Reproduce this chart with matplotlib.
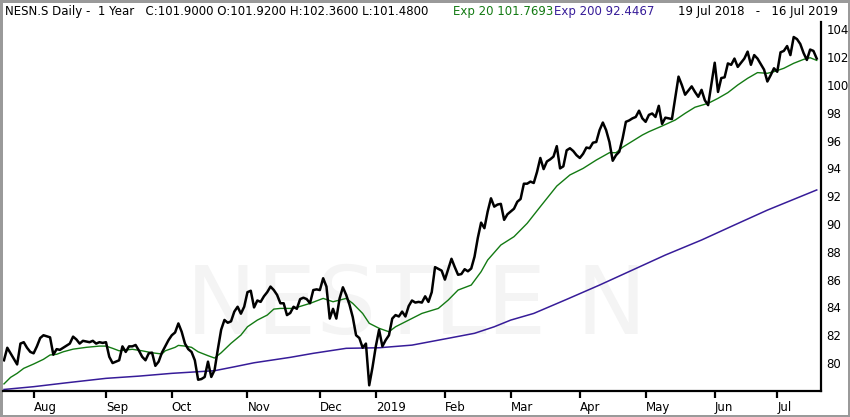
import matplotlib
matplotlib.use("Agg")
import matplotlib.pyplot as plt

# trading-day index (0 = 19 Jul 2018) and daily close
price_day = [0, 1, 3, 4, 5, 6, 7, 8, 9, 10, 11, 12, 14, 15, 16, 17, 18, 20, 21, 22,
             23, 24, 26, 27, 28, 29, 30, 31, 32, 33, 34, 35, 36, 37, 38, 39, 40, 41, 42, 43,
             44, 45, 46, 47, 48, 49, 50, 51, 52, 53, 54, 55, 56, 57, 58, 59, 60, 61, 62, 63,
             64, 65, 66, 67, 68, 69, 70, 71, 72, 73, 74, 75, 76, 77, 78, 79, 80, 81, 82, 83,
             84, 85, 86, 87, 88, 89, 90, 91, 92, 93, 94, 95, 96, 97, 98, 99, 100, 101, 102, 103,
             104, 105, 106, 107, 108, 109, 110, 111, 112, 113, 114, 115, 116, 117, 118, 119, 120, 121, 122, 123,
             124, 125, 126, 127, 128, 129, 130, 131, 133, 134, 136, 137, 138, 139, 140, 141, 142, 143, 144, 145,
             146, 147, 148, 149, 150, 151, 152, 153, 155, 156, 157, 158, 159, 160, 161, 162, 163, 164, 165, 166,
             167, 168, 169, 170, 171, 172, 173, 174, 175, 176, 177, 178, 179, 180, 181, 182, 183, 184, 185, 186,
             187, 188, 189, 190, 191, 192, 193, 194, 195, 196, 197, 198, 199, 200, 201, 202, 203, 205, 206, 207,
             209, 210, 211, 212, 213, 214, 216, 217, 218, 219, 220, 221, 222, 223, 224, 225, 226, 227, 228, 229,
             230, 231, 232, 233, 234, 235, 236, 237, 238, 239, 240, 241, 242, 243, 244, 245, 246, 247]
price_close = [80.2, 81.1, 80.3, 79.9, 81.4, 81.5, 81.1, 80.8, 80.7, 81.2, 81.8, 82.0, 81.85, 80.6, 81.0, 80.95, 81.1, 81.4, 81.9, 81.7,
               81.4, 81.6, 81.5, 81.6, 81.4, 81.5, 81.45, 81.5, 80.45, 80.0, 80.1, 80.2, 81.2, 80.8, 81.2, 81.2, 81.3, 80.9, 80.45, 80.2,
               80.7, 80.75, 79.8, 80.1, 80.75, 81.2, 81.65, 82.0, 82.2, 82.85, 82.25, 81.4, 81.0, 80.8, 80.2, 78.8, 78.85, 79.0, 80.1, 79.0,
               79.5, 81.0, 82.4, 83.1, 82.9, 83.0, 83.7, 84.05, 83.55, 84.05, 85.1, 85.2, 84.0, 84.5, 84.4, 84.8, 85.1, 85.5, 85.25, 84.9,
               84.3, 84.3, 83.45, 83.6, 84.05, 83.9, 84.6, 84.7, 84.6, 84.3, 85.25, 85.3, 85.25, 86.1, 85.5, 83.2, 83.9, 83.2, 84.65, 85.45,
               84.9, 84.2, 83.3, 82.0, 81.8, 81.1, 81.4, 78.4, 79.7, 81.2, 82.4, 81.2, 81.65, 82.0, 83.2, 83.45, 83.35, 83.7, 83.35, 84.1,
               84.5, 84.35, 84.4, 84.35, 84.8, 84.4, 85.1, 86.9, 86.65, 86.0, 87.5, 86.9, 86.35, 86.4, 86.75, 86.6, 86.8, 87.65, 89.0, 90.1,
               89.7, 90.9, 91.85, 91.25, 91.4, 91.45, 90.3, 90.7, 91.1, 91.6, 91.8, 92.9, 92.9, 93.05, 92.95, 93.75, 94.75, 93.95, 94.5, 94.65,
               94.85, 95.6, 94.0, 94.15, 95.3, 95.45, 95.25, 94.95, 94.75, 95.05, 95.5, 95.45, 95.85, 95.9, 96.75, 97.3, 96.75, 95.9, 94.55, 94.95,
               95.2, 96.15, 97.35, 97.45, 97.6, 97.7, 98.15, 97.6, 97.35, 97.85, 97.95, 97.7, 98.5, 97.2, 97.65, 97.6, 97.55, 100.6, 100.0, 99.3,
               99.9, 99.5, 99.15, 99.65, 98.9, 98.55, 101.6, 99.5, 100.5, 100.55, 101.55, 101.45, 101.9, 101.3, 101.6, 101.9, 102.4, 101.45, 102.15, 101.9,
               101.5, 101.1, 100.25, 100.7, 101.2, 100.95, 102.35, 102.45, 102.8, 102.15, 103.45, 103.3, 102.95, 102.3, 101.8, 102.55, 102.45, 101.9]

ema20_day = [0, 2, 4, 6, 9, 12, 14, 16, 18, 21, 25, 29, 31, 33, 35, 37, 39, 42, 45, 48,
             49, 52, 53, 55, 57, 59, 62, 64, 66, 69, 72, 74, 77, 80, 82, 84, 88, 93, 97, 100,
             104, 106, 109, 111, 114, 117, 119, 123, 127, 132, 135, 138, 142, 145, 147, 151, 155, 159, 163, 168,
             172, 176, 180, 184, 186, 188, 194, 196, 200, 204, 207, 210, 214, 217, 220, 223, 226, 229, 232, 234,
             237, 240, 243, 245, 247]
ema20_val = [78.5, 78.97, 79.26, 79.62, 79.93, 80.27, 80.58, 80.63, 80.81, 81.0, 81.13, 81.22, 81.22, 81.06, 80.88, 80.94, 80.99, 80.88, 80.74, 80.65,
             80.88, 81.13, 81.27, 81.22, 81.13, 80.81, 80.53, 80.36, 80.74, 81.42, 82.01, 82.61, 83.09, 83.45, 83.88, 83.93, 83.93, 84.29, 84.65, 84.41,
             84.65, 84.29, 83.57, 82.86, 82.5, 82.25, 82.61, 83.09, 83.57, 83.93, 84.53, 85.25, 85.61, 86.57, 87.41, 88.49, 89.09, 90.05, 91.25, 92.73,
             93.53, 94.0, 94.6, 95.13, 95.13, 95.52, 96.4, 96.64, 97.05, 97.48, 97.96, 98.4, 98.68, 99.04, 99.45, 100.0, 100.48, 100.89, 100.84, 100.96,
             101.2, 101.56, 101.84, 101.96, 101.77]

ema200_day = [0, 9, 19, 31, 41, 51, 64, 70, 76, 87, 94, 104, 114, 124, 135, 143, 149, 154, 161, 171,
              181, 191, 201, 212, 222, 232, 247]
ema200_val = [78.1, 78.3, 78.58, 78.9, 79.06, 79.26, 79.45, 79.73, 80.02, 80.41, 80.7, 81.06, 81.1, 81.29, 81.78, 82.14, 82.61, 83.09, 83.57, 84.58,
              85.61, 86.69, 87.77, 88.85, 89.93, 91.0, 92.45]

month_ticks = [9, 31, 51, 74, 96, 113, 134, 154, 175, 195, 216, 235]
month_labels = ["Aug", "Sep", "Oct", "Nov", "Dec", "2019", "Feb", "Mar", "Apr", "May", "Jun", "Jul"]
price_ticks = [80, 82, 84, 86, 88, 90, 92, 94, 96, 98, 100, 102, 104]

header_main = "NESN.S Daily -  1 Year   C:101.9000 O:101.9200 H:102.3600 L:101.4800"
header_ema20 = "Exp 20 101.7693"
header_ema200 = "Exp 200 92.4467"
header_range = "19 Jul 2018   -   16 Jul 2019"

GREEN = "#137a13"
PURPLE = "#371c99"

fig = plt.figure(figsize=(8.5, 4.17), dpi=100)
fig.patch.set_facecolor("white")
fig.patch.set_edgecolor("#9a9a9a")
fig.patch.set_linewidth(2.5)

ax = fig.add_axes([3 / 850, 26 / 417, 818 / 850, 369 / 417])

# faint watermark
ax.text(0.505, 0.225, "NESTLE N", transform=ax.transAxes, fontsize=68,
        color="#f4f4f4", ha="center", va="center", zorder=0)

ax.plot(ema200_day, ema200_val, color=PURPLE, lw=1.1, zorder=2)
ax.plot(ema20_day, ema20_val, color=GREEN, lw=1.0, zorder=3)
ax.plot(price_day, price_close, color="black", lw=1.8, zorder=4)

ax.set_xlim(-0.3, 248.3)
ax.set_ylim(77.99, 104.53)

for side in ["left", "top"]:
    ax.spines[side].set_visible(False)
for side in ["right", "bottom"]:
    ax.spines[side].set_linewidth(1.6)

ax.yaxis.tick_right()
ax.set_yticks(price_ticks)
ax.set_yticklabels([str(v) for v in price_ticks])
ax.tick_params(axis="y", length=0, pad=4, labelsize=8.5)

ax.set_xticks(month_ticks)
ax.set_xticklabels(month_labels)
ax.tick_params(axis="x", direction="out", length=5, width=1.6, pad=2, labelsize=8.5)
for lab in ax.get_xticklabels():
    lab.set_horizontalalignment("left")

# header line
hy = 1 - 12 / 417
fig.text(5 / 850, hy, header_main, fontsize=8.5, va="center", ha="left", color="black")
fig.text(453 / 850, hy, header_ema20, fontsize=8.5, va="center", ha="left", color=GREEN)
fig.text(554 / 850, hy, header_ema200, fontsize=8.5, va="center", ha="left", color=PURPLE)
fig.text(838 / 850, hy, header_range, fontsize=8.5, va="center", ha="right", color="black")

fig.savefig("out.png", dpi=100, facecolor=fig.get_facecolor(), edgecolor=fig.get_edgecolor())
